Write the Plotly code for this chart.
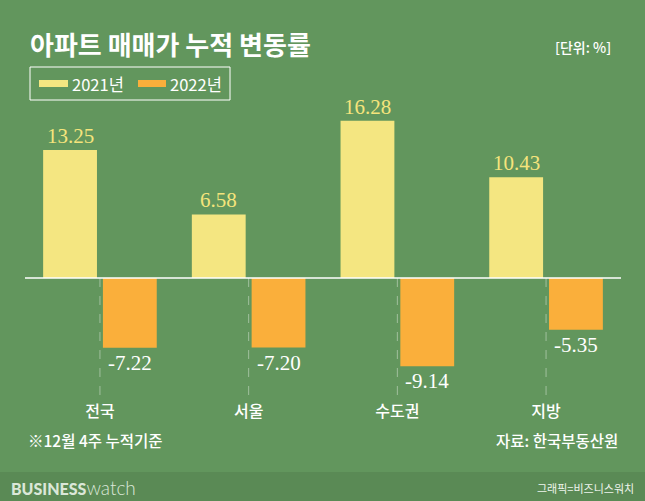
import plotly.graph_objects as go

categories = ["전국", "서울", "수도권", "지방"]
values_2021 = [13.25, 6.58, 16.28, 10.43]
values_2022 = [-7.22, -7.20, -9.14, -5.35]
series_names = ["2021년", "2022년"]

BG = "#62965d"
FOOT = "#5a8a55"
YELLOW = "#f4e681"
ORANGE = "#faaf3b"
KFONT = "Noto Sans CJK KR"
SERIF = "Liberation Serif"

W, H = 645, 501
x = list(range(len(categories)))
BW = 0.362
OFF1 = -0.382
OFF2 = 0.02

fig = go.Figure()
fig.add_trace(go.Bar(x=x, y=values_2021, name=series_names[0], width=BW, offset=OFF1,
                     marker=dict(color=YELLOW, line=dict(width=0)), showlegend=False))
fig.add_trace(go.Bar(x=x, y=values_2022, name=series_names[1], width=BW, offset=OFF2,
                     marker=dict(color=ORANGE, line=dict(width=0)), showlegend=False))

ymin, ymax = -12.63, 18.43
annotations = []
shapes = []

for i, v in enumerate(values_2021):
    annotations.append(dict(x=i + OFF1 + BW / 2, y=v, xref="x", yref="y", text=f"{v:.2f}",
                            showarrow=False, yanchor="bottom", yshift=0,
                            font=dict(family=SERIF, size=21, color="#f5e47c")))
for i, v in enumerate(values_2022):
    annotations.append(dict(x=i + OFF2 + BW / 2, y=v, xref="x", yref="y", text=f"{v:.2f}",
                            showarrow=False, yanchor="top", yshift=-1,
                            font=dict(family=SERIF, size=21, color="white")))
    shapes.append(dict(type="line", xref="x", yref="y", x0=i, x1=i, y0=0, y1=ymin,
                       line=dict(color="rgba(255,255,255,0.4)", width=1, dash="dash"), layer="below"))

# zero line
shapes.append(dict(type="line", xref="paper", yref="y", x0=25 / W, x1=621 / W, y0=0, y1=0,
                   line=dict(color="white", width=1.5)))

# footer band
shapes.append(dict(type="rect", xref="paper", yref="paper", x0=0, x1=1, y0=0, y1=(H - 472) / H,
                   fillcolor=FOOT, line=dict(width=0), layer="below"))

def py(p):
    return (H - p) / H

def px(p):
    return p / W

# legend box
shapes.append(dict(type="rect", xref="paper", yref="paper", x0=px(30), x1=px(230), y0=py(100), y1=py(67),
                   line=dict(color="white", width=1), fillcolor="rgba(0,0,0,0)"))
shapes.append(dict(type="rect", xref="paper", yref="paper", x0=px(39), x1=px(68), y0=py(87), y1=py(80),
                   line=dict(width=0), fillcolor=YELLOW))
shapes.append(dict(type="rect", xref="paper", yref="paper", x0=px(138), x1=px(166), y0=py(87), y1=py(80),
                   line=dict(width=0), fillcolor=ORANGE))
annotations.append(dict(x=px(70), y=py(84), xref="paper", yref="paper", text=series_names[0],
                        showarrow=False, xanchor="left", yanchor="middle",
                        font=dict(family=KFONT, size=16.5, color="white")))
annotations.append(dict(x=px(168), y=py(84), xref="paper", yref="paper", text=series_names[1],
                        showarrow=False, xanchor="left", yanchor="middle",
                        font=dict(family=KFONT, size=16.5, color="white")))

# title and unit
annotations.append(dict(x=px(28), y=py(44), xref="paper", yref="paper", text="<b>아파트 매매가 누적 변동률</b>",
                        showarrow=False, xanchor="left", yanchor="middle",
                        font=dict(family=KFONT, size=26, color="white")))
annotations.append(dict(x=px(613), y=py(47), xref="paper", yref="paper", text="[단위: %]",
                        showarrow=False, xanchor="right", yanchor="middle",
                        font=dict(family=KFONT, size=14, color="white", weight=500)))

# notes
annotations.append(dict(x=px(26), y=py(440), xref="paper", yref="paper", text="※12월 4주 누적기준",
                        showarrow=False, xanchor="left", yanchor="middle",
                        font=dict(family=KFONT, size=15.5, color="white", weight=500)))
annotations.append(dict(x=px(620), y=py(440), xref="paper", yref="paper", text="자료: 한국부동산원",
                        showarrow=False, xanchor="right", yanchor="middle",
                        font=dict(family=KFONT, size=15.5, color="white", weight=500)))

# footer texts
annotations.append(dict(x=px(9), y=py(487), xref="paper", yref="paper",
                        text="<span style='font-weight:900;font-size:16px'>BUSINESS</span><span style='font-weight:300;font-size:19px'>watch</span>",
                        showarrow=False, xanchor="left", yanchor="middle",
                        font=dict(family="Lato", size=16, color="#dbe7d8")))
annotations.append(dict(x=px(636), y=py(488), xref="paper", yref="paper", text="그래픽=비즈니스워치",
                        showarrow=False, xanchor="right", yanchor="middle",
                        font=dict(family=KFONT, size=11, color="#eef4ec")))

fig.update_layout(
    width=W, height=H,
    margin=dict(l=0, r=0, t=0, b=0),
    paper_bgcolor=BG, plot_bgcolor=BG,
    barmode="overlay",
    xaxis=dict(domain=[25 / W, 621 / W], range=[-0.504, 3.504], tickvals=x, ticktext=categories,
               showgrid=False, zeroline=False, showline=False, ticks="",
               tickfont=dict(family=KFONT, size=16, color="white", weight=500)),
    yaxis=dict(domain=[(H - 400) / H, (H - 100) / H], range=[ymin, ymax], visible=False),
    annotations=annotations,
    shapes=shapes,
)

fig.write_html("out.html", config={"displayModeBar": False},
               post_script="document.body.style.margin='0';document.body.style.overflow='hidden';")
